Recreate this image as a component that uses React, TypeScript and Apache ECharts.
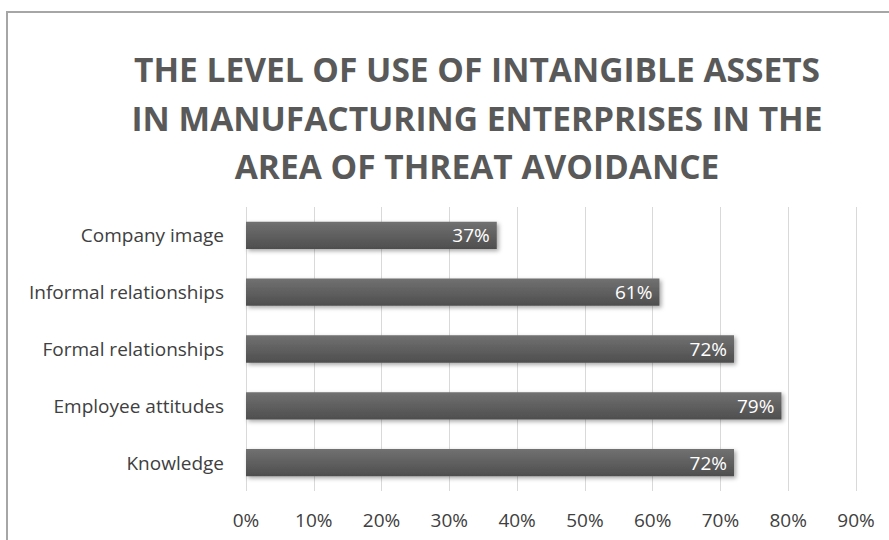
import React, { useEffect, useRef } from "react";
import * as echarts from "echarts";

const titleLines = [
  "THE LEVEL OF USE OF INTANGIBLE ASSETS",
  "IN MANUFACTURING ENTERPRISES IN THE",
  "AREA OF THREAT AVOIDANCE",
];
// bottom to top
const categories = [
  "Knowledge",
  "Employee attitudes",
  "Formal relationships",
  "Informal relationships",
  "Company image",
];
const values = [72, 79, 72, 61, 37];
const axisMax = 90;
const axisStep = 10;

const FONT = "'Open Sans', 'Noto Sans', sans-serif";

export default function App() {
  const ref = useRef<HTMLDivElement>(null);
  useEffect(() => {
    if (!ref.current) return;
    const chart = echarts.init(ref.current, undefined, { renderer: "svg" });
    chart.setOption({
      animation: false,
      backgroundColor: "#ffffff",
      title: {
        text: titleLines.join("\n"),
        left: 472,
        top: 40,
        textAlign: "center",
        textStyle: {
          fontFamily: FONT,
          fontWeight: "bold",
          fontSize: 33.5,
          lineHeight: 48.5,
          color: "#595959",
        },
      },
      graphic: [
        {
          type: "rect",
          shape: { x: 7, y: 12, width: 1000, height: 700 },
          style: { fill: "none", stroke: "#a6a6a6", lineWidth: 2 },
          silent: true,
        },
      ],
      grid: { left: 246, right: 33, top: 207, bottom: 49, containLabel: false },
      xAxis: {
        type: "value",
        min: 0,
        max: axisMax,
        interval: axisStep,
        axisLine: { show: false },
        axisTick: { show: false },
        splitLine: { show: true, lineStyle: { color: "#d9d9d9", width: 1 } },
        axisLabel: {
          formatter: "{value}%",
          color: "#404040",
          fontFamily: FONT,
          fontSize: 19,
          margin: 19,
        },
      },
      yAxis: {
        type: "category",
        data: categories,
        axisLine: { show: false },
        axisTick: { show: false },
        axisLabel: {
          color: "#404040",
          fontFamily: FONT,
          fontSize: 19,
          margin: 22,
        },
      },
      series: [
        {
          type: "bar",
          data: values,
          barCategoryGap: "52%",
          itemStyle: {
            color: new echarts.graphic.LinearGradient(0, 0, 0, 1, [
              { offset: 0, color: "#717171" },
              { offset: 1, color: "#4e4e4e" },
            ]),
            shadowBlur: 4,
            shadowOffsetX: 2,
            shadowOffsetY: 2,
            shadowColor: "rgba(0,0,0,0.35)",
          },
          label: {
            show: true,
            position: "insideRight",
            formatter: "{c}%",
            color: "#ffffff",
            fontFamily: FONT,
            fontSize: 19,
            distance: 7,
          },
        },
      ],
    });
    return () => chart.dispose();
  }, []);
  return (
    <div
      ref={ref}
      style={{ position: "fixed", left: 0, top: 0, width: 889, height: 540 }}
    />
  );
}
